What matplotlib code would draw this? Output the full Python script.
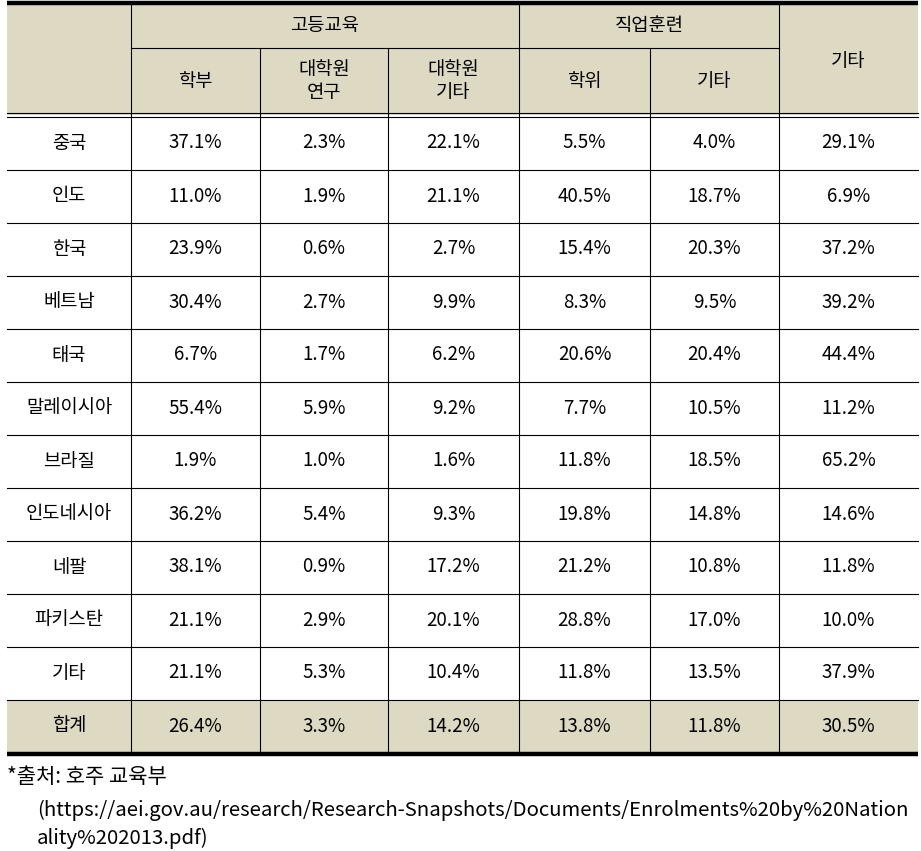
import matplotlib
matplotlib.use("Agg")
import matplotlib.pyplot as plt
from matplotlib.patches import Rectangle

plt.rcParams['font.family'] = ['Noto Sans CJK KR', 'DejaVu Sans']

# ---- data ----
countries = ["중국", "인도", "한국", "베트남", "태국", "말레이시아", "브라질",
             "인도네시아", "네팔", "파키스탄", "기타"]
undergrad = [37.1, 11.0, 23.9, 30.4, 6.7, 55.4, 1.9, 36.2, 38.1, 21.1, 21.1]
grad_research = [2.3, 1.9, 0.6, 2.7, 1.7, 5.9, 1.0, 5.4, 0.9, 2.9, 5.3]
grad_other = [22.1, 21.1, 2.7, 9.9, 6.2, 9.2, 1.6, 9.3, 17.2, 20.1, 10.4]
voc_degree = [5.5, 40.5, 15.4, 8.3, 20.6, 7.7, 11.8, 19.8, 21.2, 28.8, 11.8]
voc_other = [4.0, 18.7, 20.3, 9.5, 20.4, 10.5, 18.5, 14.8, 10.8, 17.0, 13.5]
other = [29.1, 6.9, 37.2, 39.2, 44.4, 11.2, 65.2, 14.6, 11.8, 10.0, 37.9]
total_label = "합계"
total = [26.4, 3.3, 14.2, 13.8, 11.8, 30.5]

group_labels = ["고등교육", "직업훈련", "기타"]
sub_labels = ["학부", "대학원\n연구", "대학원\n기타", "학위", "기타"]
footnote1 = "*출처: 호주 교육부"
footnote2 = "(https://aei.gov.au/research/Research-Snapshots/Documents/Enrolments%20by%20Nation"
footnote3 = "ality%202013.pdf)"

# ---- layout ----
W, H = 921, 851
fig = plt.figure(figsize=(W / 100, H / 100), dpi=100)
ax = fig.add_axes([0, 0, 1, 1])
ax.set_xlim(0, W)
ax.set_ylim(H, 0)
ax.axis("off")

xs = [7, 131, 260, 388, 519, 650, 779, 918]
top, mid, hdr_bot = 4, 48, 114.5
row_h = 53
body_top = 116.5
fill = "#DDD9C3"
fs = 13.5

n_rows = len(countries) + 1
bottom = body_top + n_rows * row_h

ax.add_patch(Rectangle((xs[0], top), xs[-1] - xs[0], hdr_bot - top, color=fill, lw=0, zorder=0))
ax.add_patch(Rectangle((xs[0], body_top + (n_rows - 1) * row_h), xs[-1] - xs[0], row_h,
                       color=fill, lw=0, zorder=0))

# borders
ax.plot([xs[0], xs[-1]], [top - 1.5, top - 1.5], color="black", lw=3.2, solid_capstyle="butt")
ax.plot([xs[0], xs[-1]], [bottom + 1.5, bottom + 1.5], color="black", lw=3.2, solid_capstyle="butt")
ax.plot([xs[0], xs[-1]], [hdr_bot - 1.5, hdr_bot - 1.5], color="black", lw=0.8)
ax.plot([xs[0], xs[-1]], [body_top, body_top], color="black", lw=0.8)
ax.plot([xs[1], xs[6]], [mid, mid], color="black", lw=0.8)
for i in range(1, n_rows):
    y = body_top + i * row_h
    ax.plot([xs[0], xs[-1]], [y, y], color="black", lw=0.8)
for j, x in enumerate(xs[1:-1], start=1):
    y0 = top if j in (1, 4, 6) else mid
    ax.plot([x, x], [y0, bottom], color="black", lw=0.8)

# header text
ax.text((xs[1] + xs[4]) / 2, (top + mid) / 2, group_labels[0], ha="center", va="center", fontsize=fs)
ax.text((xs[4] + xs[6]) / 2, (top + mid) / 2, group_labels[1], ha="center", va="center", fontsize=fs)
ax.text((xs[6] + xs[7]) / 2, (top + hdr_bot) / 2 + 2, group_labels[2], ha="center", va="center", fontsize=fs)
for j, lab in enumerate(sub_labels):
    ax.text((xs[j + 1] + xs[j + 2]) / 2, (mid + hdr_bot) / 2, lab, ha="center", va="center",
            fontsize=fs, linespacing=1.15)

# body
cols = [undergrad, grad_research, grad_other, voc_degree, voc_other, other]
for i, c in enumerate(countries):
    yc = body_top + (i + 0.5) * row_h
    ax.text((xs[0] + xs[1]) / 2, yc, c, ha="center", va="center", fontsize=fs)
    for j, col in enumerate(cols):
        ax.text((xs[j + 1] + xs[j + 2]) / 2, yc, f"{col[i]:.1f}%", ha="center", va="center", fontsize=fs)
yc = body_top + (n_rows - 0.5) * row_h
ax.text((xs[0] + xs[1]) / 2, yc, total_label, ha="center", va="center", fontsize=fs)
for j, v in enumerate(total):
    ax.text((xs[j + 1] + xs[j + 2]) / 2, yc, f"{v:.1f}%", ha="center", va="center", fontsize=fs)

# footnote
ax.text(7, 777, footnote1, ha="left", va="center", fontsize=fs * 1.12)
t2 = ax.text(37, 810, footnote2, ha="left", va="center", fontsize=fs)
t3 = ax.text(37, 838, footnote3, ha="left", va="center", fontsize=fs)
# fit the long URL line to the reference width
r = fig.canvas.get_renderer()
w = t2.get_window_extent(r).width
scale = (912 - 37) / w
t2.set_fontsize(fs * scale)
t3.set_fontsize(fs * scale)

fig.savefig("out.png", dpi=100)
